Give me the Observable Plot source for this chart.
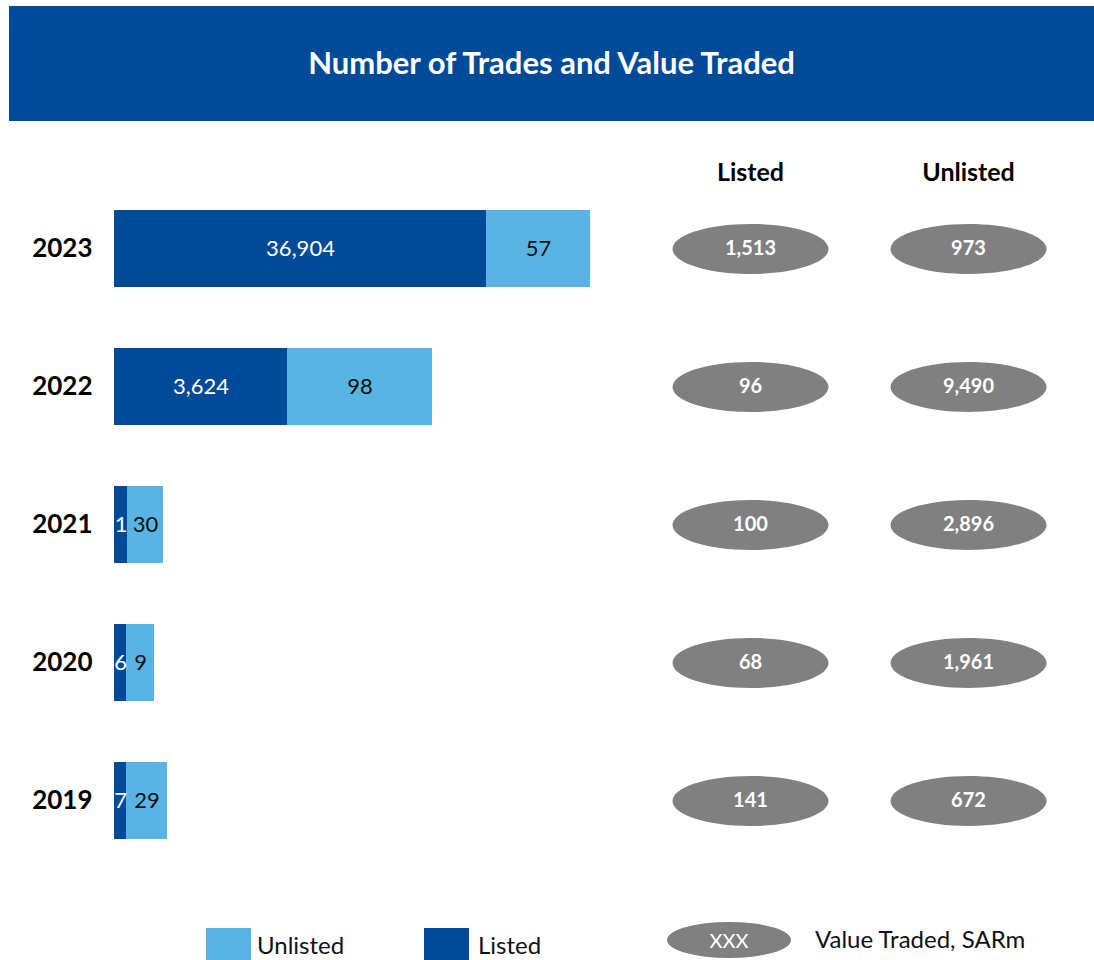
<!DOCTYPE html>
<html>
<head>
<meta charset="utf-8">
<script src="https://cdn.jsdelivr.net/npm/d3@7"></script>
<script src="https://cdn.jsdelivr.net/npm/@observablehq/plot@0.6"></script>
<style>
  html, body { margin: 0; padding: 0; background: #fff; }
  body { width: 1094px; height: 960px; overflow: hidden; position: relative; font-family: Lato, "Open Sans", sans-serif; }
  #banner { position: absolute; left: 9px; top: 6px; width: 1085px; height: 111px; padding-bottom: 4px; background: #004a98;
            color: #fff; font: bold 31px Lato, sans-serif; display: flex; align-items: center; justify-content: center; }
  #charts { position: absolute; left: 0; top: 121px; display: flex; }
  #legend { position: absolute; left: 0; top: 905px; width: 1094px; height: 55px; font: 24px Lato, sans-serif; color: #111; }
  .sw { position: absolute; }
  .lt { position: absolute; white-space: nowrap; }
</style>
</head>
<body>
<div id="banner">Number of Trades and Value Traded</div>
<div id="charts"></div>
<div id="legend"></div>
<script>
// ---- data ----
const years = ["2023", "2022", "2021", "2020", "2019"];
const listedTrades = [36904, 3624, 1, 6, 7];
const unlistedTrades = [57, 98, 30, 9, 29];
// drawn bar lengths as they appear in the original (not to scale with the values)
const listedBarLength = [372, 173, 13, 12, 12];
const unlistedBarLength = [104, 145, 36, 28, 41];
const listedValueTraded = [1513, 96, 100, 68, 141];
const unlistedValueTraded = [973, 9490, 2896, 1961, 672];
const columns = ["Listed", "Unlisted"];

const darkBlue = "#004a98";
const lightBlue = "#5ab4e3";
const fmt = d3.format(",");

const H = 784;
const yScale = {type: "band", domain: years, padding: 0.444, paddingOuter: 0.3};

const barRows = [];
years.forEach((y, i) => {
  barRows.push({year: y, series: "Listed", len: listedBarLength[i], label: fmt(listedTrades[i])});
  barRows.push({year: y, series: "Unlisted", len: unlistedBarLength[i], label: fmt(unlistedTrades[i])});
});

const left = Plot.plot({
  width: 660, height: H,
  marginLeft: 114, marginRight: 0, marginTop: 46, marginBottom: 23,
  x: {domain: [0, 546], axis: null},
  y: yScale,
  color: {domain: ["Listed", "Unlisted"], range: [darkBlue, lightBlue]},
  style: {fontFamily: "Lato, sans-serif"},
  marks: [
    Plot.barX(barRows, {y: "year", x: "len", fill: "series", order: null}),
    Plot.text(barRows, Plot.stackX({y: "year", x: "len", text: "label", order: null,
      fill: d => d.series === "Listed" ? "#fff" : "#111", fontSize: 22})),
    Plot.axisY({tickSize: 0, tickPadding: 22, fontSize: 26, fontWeight: "bold", fill: "#000", label: null})
  ]
});

const valueRows = [];
years.forEach((y, i) => {
  valueRows.push({year: y, col: "Listed", v: listedValueTraded[i]});
  valueRows.push({year: y, col: "Unlisted", v: unlistedValueTraded[i]});
});

const ellipse = {
  draw(context) {
    const rx = 78, ry = 25, k = 0.5523;
    context.moveTo(rx, 0);
    context.bezierCurveTo(rx, k * ry, k * rx, ry, 0, ry);
    context.bezierCurveTo(-k * rx, ry, -rx, k * ry, -rx, 0);
    context.bezierCurveTo(-rx, -k * ry, -k * rx, -ry, 0, -ry);
    context.bezierCurveTo(k * rx, -ry, rx, -k * ry, rx, 0);
    context.closePath();
  }
};

const right = Plot.plot({
  width: 434, height: H,
  marginLeft: 0, marginRight: 0, marginTop: 46, marginBottom: 23,
  x: {type: "point", domain: columns, range: [90, 308], padding: 0},
  y: {...yScale, axis: null},
  style: {fontFamily: "Lato, sans-serif"},
  marks: [
    Plot.axisX({anchor: "top", tickSize: 0, tickPadding: 0, dy: 13, fontSize: 25, fontWeight: "bold", fill: "#000", label: null}),
    Plot.dot(valueRows, {x: "col", y: "year", symbol: ellipse, fill: "#808080", stroke: "none"}),
    Plot.text(valueRows, {x: "col", y: "year", text: d => fmt(d.v), fill: "#fff", fontSize: 20, fontWeight: "bold"})
  ]
});
const charts = document.getElementById("charts");
charts.appendChild(left);
charts.appendChild(right);

// ---- legend ----
const legend = document.getElementById("legend");
const items = [
  {type: "box", color: lightBlue, label: "Unlisted", x: 206, tx: 257},
  {type: "box", color: darkBlue, label: "Listed", x: 424, tx: 478},
  {type: "ellipse", color: "#808080", label: "Value Traded, SARm", x: 667, tx: 815}
];
items.forEach(it => {
  const sw = document.createElement("div");
  sw.className = "sw";
  if (it.type === "box") {
    Object.assign(sw.style, {left: it.x + "px", top: "23px", width: "45px", height: "34px", background: it.color});
  } else {
    Object.assign(sw.style, {left: it.x + "px", top: "17px", width: "124px", height: "36px", background: it.color,
      borderRadius: "50%", color: "#fff", font: "20px Lato, sans-serif", display: "flex", alignItems: "center", justifyContent: "center"});
    sw.textContent = "XXX";
  }
  legend.appendChild(sw);
  const t = document.createElement("div");
  t.className = "lt";
  t.textContent = it.label;
  Object.assign(t.style, {left: it.tx + "px", top: it.type === "box" ? "25px" : "19px"});
  legend.appendChild(t);
});
</script>
</body>
</html>
